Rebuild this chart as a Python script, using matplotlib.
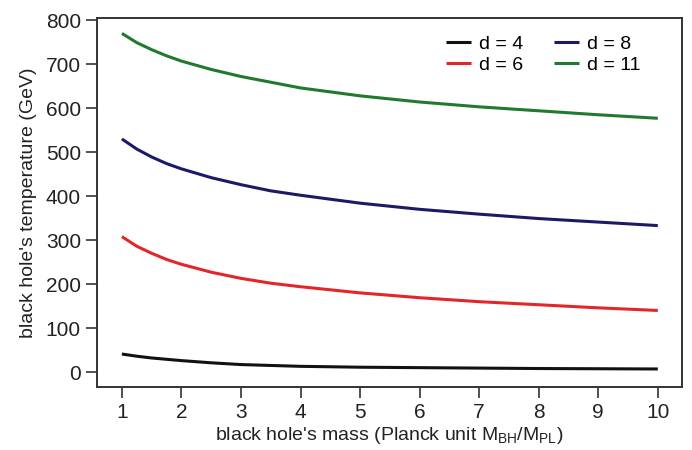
import matplotlib

matplotlib.use("Agg")
import matplotlib.pyplot as plt

# values
mass = [1, 1.25, 1.5, 1.75, 2, 2.5, 3, 3.5, 4, 5, 6, 7, 8, 9, 10]
temp_d4 = [41, 36, 32, 29, 26, 21, 17, 15, 13, 11, 10, 9, 8, 7.5, 7]
temp_d6 = [308, 286, 270, 256, 245, 227, 213, 202, 194, 180, 169, 160, 153, 146, 140]
temp_d8 = [530, 507, 489, 474, 462, 442, 426, 412, 402, 384, 370, 359, 349, 341, 333]
temp_d11 = [770, 749, 733, 719, 707, 688, 672, 659, 646, 628, 614, 603, 594, 585, 577]

labels = ["d = 4", "d = 6", "d = 8", "d = 11"]
colors = ["#111111", "#e3262a", "#1c1a66", "#1f7a2e"]
x_ticks = list(range(1, 11))
y_ticks = list(range(0, 801, 100))

plt.rcParams["font.family"] = ["Liberation Sans", "DejaVu Sans"]

fig = plt.figure(figsize=(6.92, 4.5), dpi=100)
ax = fig.add_axes([0.140, 0.140, 0.845, 0.820])

for values, label, color in zip([temp_d4, temp_d6, temp_d8, temp_d11], labels, colors):
    ax.plot(mass, values, color=color, linewidth=2.2, label=label, solid_capstyle="butt")

ax.set_xlim(0.58, 10.4)
ax.set_ylim(-34, 805)
ax.set_xticks(x_ticks)
ax.set_yticks(y_ticks)
ax.tick_params(direction="out", length=8, width=1.2, labelsize=15, color="#333333", labelcolor="#222222")
for spine in ax.spines.values():
    spine.set_linewidth(1.4)
    spine.set_color("#333333")

ax.set_xlabel(r"black hole's mass (Planck unit M$_{\mathregular{BH}}$/M$_{\mathregular{PL}}$)",
              fontsize=14, color="#222222", labelpad=2)
ax.set_ylabel("black hole's temperature (GeV)", fontsize=14, color="#222222", labelpad=6)

ax.legend(ncol=2, frameon=False, fontsize=14, handlelength=1.3, handletextpad=0.4,
          columnspacing=1.6, labelspacing=0.15, loc="upper right", bbox_to_anchor=(0.96, 1.0))

fig.savefig("out.png", dpi=100)
